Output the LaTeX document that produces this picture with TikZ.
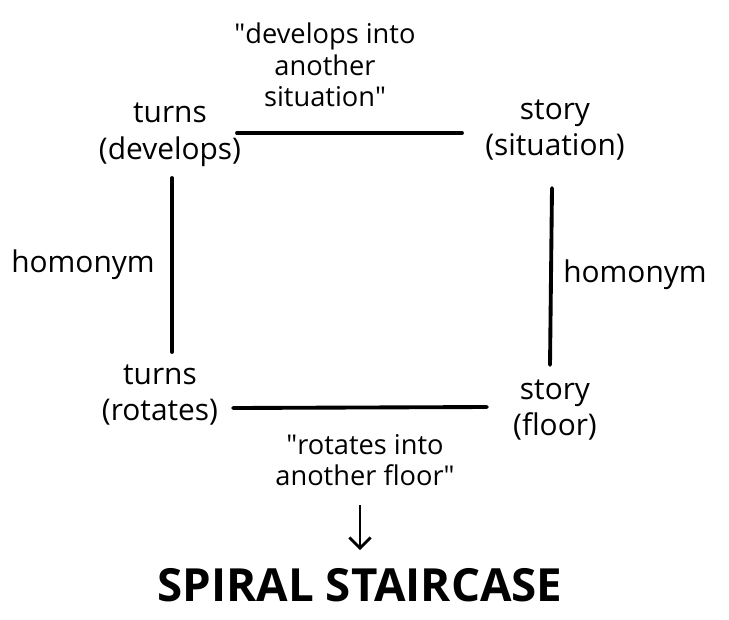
\documentclass[tikz,border=0pt]{standalone}
\usepackage{fontspec}
\setmainfont{Open Sans}
\usetikzlibrary{arrows.meta}
\tikzset{
  word/.style={align=center, font=\fontsize{17}{21}\selectfont},
  quote/.style={align=center, font=\fontsize{15.5}{18}\selectfont},
  link/.style={line width=2.2pt, line cap=round}
}
\newcommand{\qq}{\textquotedbl}
\begin{document}
\begin{tikzpicture}[x=0.02cm, y=-0.02cm]
  \useasboundingbox (0,0) rectangle (729,619);
  % the four words
  \node[word] (dev) at (170,135) {turns\\(develops)};
  \node[word] (sit) at (555,130) {story\\(situation)};
  \node[word] (rot) at (160,395) {turns\\(rotates)};
  \node[word] (flo) at (555,410) {story\\(floor)};

  % connections
  \draw[link] (237,133) -- (462,133);
  \draw[link] (172,178) -- (172,352);
  \draw[link] (552,188) -- (550,365);
  \draw[link] (233,408) -- (487,407);

  % labels
  \node[quote] (sense1) at (325,65) {\qq develops into\\another\\situation\qq};
  \node[word] (hom1) at (83,265) {homonym};
  \node[word] (hom2) at (635,275) {homonym};
  \node[quote] (sense2) at (365,460) {\qq rotates into\\another floor\qq};

  % result
  \node[font=\fontsize{26}{30}\selectfont\bfseries] (res) at (360,585) {SPIRAL STAIRCASE};
  \coordinate (arrtop) at (360,505);
  \coordinate (arrbot) at (360,550);
  \draw[line width=1.6pt, -{Straight Barb[length=6pt]}] (arrtop) -- (arrbot);
\end{tikzpicture}
\end{document}
